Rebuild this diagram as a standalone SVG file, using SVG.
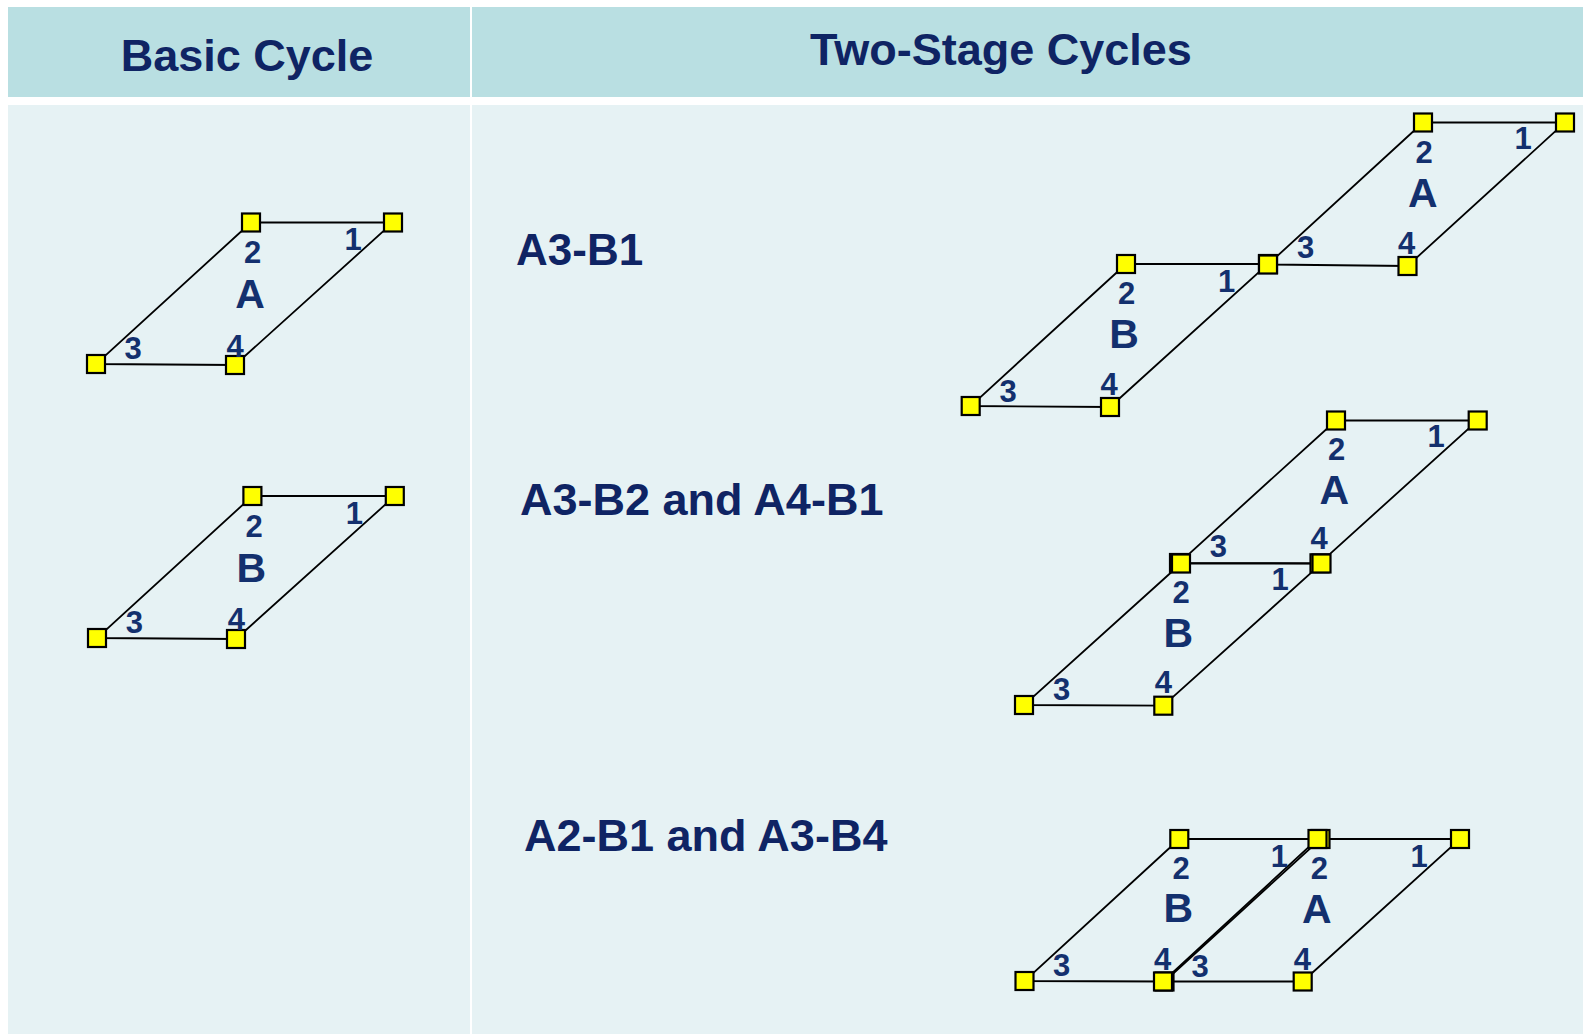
<svg xmlns="http://www.w3.org/2000/svg" width="1583" height="1034" viewBox="0 0 1583 1034">
<style>
.hdr{fill:#b9dfe2}
.body{fill:#e6f2f4}
.ht{font-family:"Liberation Sans",Arial,sans-serif;font-weight:bold;font-size:45px;fill:#0f2464;text-anchor:middle}
.sec{font-family:"Liberation Sans",Arial,sans-serif;font-weight:bold;font-size:44px;fill:#0f2464}
.sec2{font-family:"Liberation Sans",Arial,sans-serif;font-weight:bold;font-size:45px;fill:#0f2464}
.num{font-family:"Liberation Sans",Arial,sans-serif;font-weight:bold;font-size:31px;fill:#13306e;text-anchor:middle}
.cyc{font-family:"Liberation Sans",Arial,sans-serif;font-weight:bold;font-size:41px;fill:#13306e;text-anchor:middle}
.nd{fill:#ffff00;stroke:#000;stroke-width:2.2}
.ln{stroke:#000;stroke-width:1.8;fill:none}
</style>
<defs>
<rect id="sq" class="nd" x="-9" y="-9" width="18" height="18"/>
</defs>
<rect width="1583" height="1034" fill="#ffffff"/>
<g id="table">
<rect class="hdr" x="8" y="7" width="462" height="90"/>
<rect class="hdr" x="472" y="7" width="1111" height="90"/>
<rect class="body" x="8" y="105" width="462" height="929"/>
<rect class="body" x="472" y="105" width="1111" height="929"/>
<text class="ht" x="247" y="71">Basic Cycle</text>
<text class="ht" x="1001" y="65">Two-Stage Cycles</text>
<text class="sec" x="516" y="265">A3-B1</text>
<text class="sec2" x="520" y="515">A3-B2 and A4-B1</text>
<text class="sec2" x="524" y="851">A2-B1 and A3-B4</text>
</g>
<g id="connectors">
<polygon class="ln" points="251,222.5 393,222.5 235,365 96,364"/>
<polygon class="ln" points="252.4,496 394.8,496 236,639 97,638"/>
<polygon class="ln" points="1126,264 1268,264 1110,407 970.7,406"/>
<polygon class="ln" points="1423,122.5 1565,122.5 1407.5,266 1268,264.5"/>
<polygon class="ln" points="1336,420.5 1477.7,420.5 1319.5,563.3 1179,563"/>
<polygon class="ln" points="1181,563.5 1321.5,563.5 1163.3,705.7 1024,705"/>
<polygon class="ln" points="1179.3,839 1317.5,839 1163,981.5 1024.5,981"/>
<polygon class="ln" points="1320.5,839 1460,839 1302.7,981.5 1164.5,981.5"/>
</g>
<g id="basicA">
<text class="cyc" x="250" y="308">A</text>
<g id="basicA-1"><use href="#sq" x="393" y="222.5"/><text class="num" x="353" y="250">1</text></g>
<g id="basicA-2"><use href="#sq" x="251" y="222.5"/><text class="num" x="252.7" y="263">2</text></g>
<g id="basicA-3"><use href="#sq" x="96" y="364"/><text class="num" x="133" y="359.3">3</text></g>
<g id="basicA-4"><use href="#sq" x="235" y="365"/><text class="num" x="235" y="356.7">4</text></g>
</g>
<g id="basicB">
<text class="cyc" x="251.4" y="582">B</text>
<g id="basicB-1"><use href="#sq" x="394.8" y="496"/><text class="num" x="354.4" y="523.5">1</text></g>
<g id="basicB-2"><use href="#sq" x="252.4" y="496"/><text class="num" x="254" y="536.5">2</text></g>
<g id="basicB-3"><use href="#sq" x="97" y="638"/><text class="num" x="134.4" y="633">3</text></g>
<g id="basicB-4"><use href="#sq" x="236" y="639"/><text class="num" x="236.4" y="630">4</text></g>
</g>
<g id="s1B">
<text class="cyc" x="1124" y="348">B</text>
<g id="s1B-2"><use href="#sq" x="1126" y="264"/><text class="num" x="1126.7" y="304">2</text></g>
<g id="s1B-3"><use href="#sq" x="970.7" y="406"/><text class="num" x="1008" y="401.7">3</text></g>
<g id="s1B-4"><use href="#sq" x="1110" y="407"/><text class="num" x="1109" y="395">4</text></g>
<g id="s1B-1"><use href="#sq" x="1268" y="264"/><text class="num" x="1226.7" y="291.7">1</text></g>
</g>
<g id="s1A">
<text class="cyc" x="1422.7" y="206.7">A</text>
<g id="s1A-1"><use href="#sq" x="1565" y="122.5"/><text class="num" x="1523" y="149">1</text></g>
<g id="s1A-2"><use href="#sq" x="1423" y="122.5"/><text class="num" x="1424" y="163">2</text></g>
<g id="s1A-3"><use href="#sq" x="1268" y="264.5"/><text class="num" x="1305.7" y="258.3">3</text></g>
<g id="s1A-4"><use href="#sq" x="1407.5" y="266"/><text class="num" x="1406.7" y="254">4</text></g>
</g>
<g id="s2A">
<text class="cyc" x="1334.3" y="504">A</text>
<g id="s2A-1"><use href="#sq" x="1477.7" y="420.5"/><text class="num" x="1436" y="446.7">1</text></g>
<g id="s2A-2"><use href="#sq" x="1336" y="420.5"/><text class="num" x="1336.7" y="460">2</text></g>
<g id="s2A-3"><use href="#sq" x="1179" y="563"/><text class="num" x="1218.3" y="556.7">3</text></g>
<g id="s2A-4"><use href="#sq" x="1319.5" y="563.3"/><text class="num" x="1319" y="549.3">4</text></g>
</g>
<g id="s2B">
<text class="cyc" x="1178.3" y="646.7">B</text>
<g id="s2B-2"><use href="#sq" x="1181" y="563.5"/><text class="num" x="1181" y="602.7">2</text></g>
<g id="s2B-1"><use href="#sq" x="1321.5" y="563.5"/><text class="num" x="1280" y="590">1</text></g>
<g id="s2B-3"><use href="#sq" x="1024" y="705"/><text class="num" x="1061.7" y="700">3</text></g>
<g id="s2B-4"><use href="#sq" x="1163.3" y="705.7"/><text class="num" x="1163.3" y="692.7">4</text></g>
</g>
<g id="s3A">
<text class="cyc" x="1316.7" y="922.5">A</text>
<g id="s3A-2"><use href="#sq" x="1320.5" y="839"/><text class="num" x="1319.3" y="879.3">2</text></g>
<g id="s3A-1"><use href="#sq" x="1460" y="839"/><text class="num" x="1419" y="867">1</text></g>
<g id="s3A-3"><use href="#sq" x="1164.5" y="981.5"/><text class="num" x="1200" y="976.7">3</text></g>
<g id="s3A-4"><use href="#sq" x="1302.7" y="981.5"/><text class="num" x="1302.3" y="970">4</text></g>
</g>
<g id="s3B">
<text class="cyc" x="1178.3" y="921.7">B</text>
<g id="s3B-2"><use href="#sq" x="1179.3" y="839"/><text class="num" x="1181" y="879.3">2</text></g>
<g id="s3B-1"><use href="#sq" x="1317.5" y="839"/><text class="num" x="1279.3" y="866.7">1</text></g>
<g id="s3B-3"><use href="#sq" x="1024.5" y="981"/><text class="num" x="1061.7" y="975.7">3</text></g>
<g id="s3B-4"><use href="#sq" x="1163" y="981.5"/><text class="num" x="1162.7" y="970">4</text></g>
</g>
</svg>
